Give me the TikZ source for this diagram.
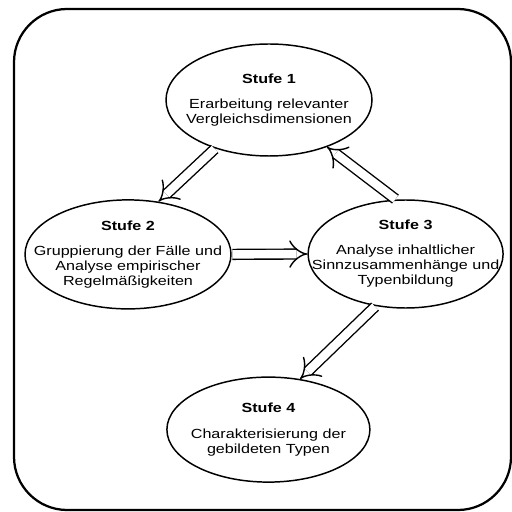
\documentclass[tikz,border=0pt]{standalone}
\usepackage{fontspec}
\setmainfont{Liberation Sans}[FakeStretch=1.22]
\usetikzlibrary{arrows.meta,shapes.geometric}

\begin{document}
\begin{tikzpicture}[
    stage/.style={draw,ellipse,line width=1.05pt,inner sep=0pt},
    stagetext/.style={align=center,font=\fontsize{9.4}{10.7}\selectfont},
    flow/.style={draw,double,double distance=6pt,line width=1pt,-{Implies[scale=1.25]},shorten <=0.5pt}]

    \useasboundingbox (0,0) rectangle (12.8,-12.8);
    \draw[line width=1.6pt,rounded corners=1.33cm] (0.35,-0.225) rectangle (12.775,-12.75);

% die vier Stufen
\node[stage,minimum width=5.15cm,minimum height=2.8cm] (s1) at (6.725,-2.5) {};
\node[stage,minimum width=5.15cm,minimum height=2.725cm] (s2) at (3.2,-6.36) {};
\node[stage,minimum width=4.875cm,minimum height=2.7cm] (s3) at (10.14,-6.35) {};
\node[stage,minimum width=5.075cm,minimum height=2.625cm] (s4) at (6.71,-10.74) {};

\node[stagetext] (t1) at (s1) {\textbf{Stufe 1}\\[7.1pt] Erarbeitung relevanter\\ Vergleichsdimensionen};
\node[stagetext] (t2) at (s2) {\textbf{Stufe 2}\\[7.1pt] Gruppierung der Fälle und\\ Analyse empirischer\\ Regelmäßigkeiten};
\node[stagetext] (t3) at (s3) {\textbf{Stufe 3}\\[7.1pt] Analyse inhaltlicher\\ Sinnzusammenhänge und\\ Typenbildung};
\node[stagetext] (t4) at (s4) {\textbf{Stufe 4}\\[7.1pt] Charakterisierung der\\ gebildeten Typen};

% Pfeile
\draw[flow] (s1.222) -- (s2.60);
\draw[flow] (s2.east) -- (s3.west);
\draw[flow] (s3.100) -- (s1.321);
\draw[flow] (s3.240) -- (s4.58);
%\draw[flow] (s4) -- (s2);
\end{tikzpicture}
\end{document}
